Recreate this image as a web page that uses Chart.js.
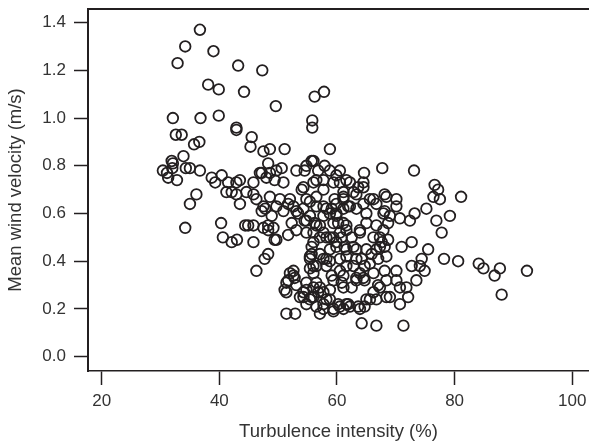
<!DOCTYPE html>
<html>
<head>
<meta charset="utf-8">
<script src="https://cdn.jsdelivr.net/npm/chart.js@4.4.1/dist/chart.umd.min.js"></script>
<style>
  html, body { margin: 0; padding: 0; background: #fff; }
  #wrap { width: 589px; height: 444px; }
</style>
</head>
<body>
<div id="wrap"><canvas id="myChart" width="589" height="444"></canvas></div>
<script>
// Turbulence intensity (%) vs mean wind velocity (m/s)
const turbulence = [
    36.7, 34.2, 32.9, 39.0, 43.2, 47.3, 38.1, 39.9, 44.2, 49.6,
    56.2, 57.8, 32.1, 36.8, 39.9, 42.9, 42.9, 55.8, 55.8, 45.5,
    32.6, 33.6, 35.7, 36.6, 45.3, 47.5, 48.6, 51.1, 58.8,
    // left band
    33.9, 32.1, 30.4, 31.1, 31.3, 32.0, 32.8, 31.9, 34.3, 35.0,
    36.7, 38.7, 39.3, 40.4, 36.1, 35.0, 34.2, 41.5, 42.9, 43.5,
    45.8, 46.9, 48.0, 48.6, 49.7, 50.6, 48.3, 53.1, 41.2, 42.1,
    43.5, 44.6, 46.3, 47.2, 49.4, 50.9, 52.0, 54.0, 54.8, 56.0,
    56.5, 57.7, 58.8, 59.6, 60.5, 61.1, 42.9, 45.8, 47.5, 48.6,
    50.3, 51.7, 53.1, 54.3, 55.4, 56.5, 57.7, 58.8, 59.9, 61.1,
    61.9, 63.3, 64.5, 65.6, 66.7, 68.4, 67.9, 47.2, 47.8, 48.9,
    49.7, 50.9, 52.6, 53.4, 54.5, 55.4, 56.2, 57.7, 59.1, 59.9,
    60.2, 61.6,
    // middle
    40.3, 40.6, 42.1, 43.0, 45.8, 44.4, 44.9, 47.5, 48.3, 49.2,
    49.7, 51.7, 48.3, 47.7, 46.3, 45.8, 48.3, 49.4, 52.3, 53.1,
    54.8, 56.0, 57.1, 58.2, 59.4, 60.5, 61.6, 62.5, 63.9, 65.0,
    66.2, 67.9, 68.7, 54.8, 56.0, 57.1, 58.8, 59.9, 60.8, 61.6,
    // lower
    66.7, 65.0, 63.3, 61.3, 58.8, 57.1, 55.7, 55.4, 56.5, 58.8,
    60.5, 61.6, 62.8, 64.2, 65.6, 67.0, 68.4, 55.4, 56.0, 57.7,
    58.2, 52.0, 52.6, 51.4, 51.4, 53.1, 54.3, 54.8, 56.0, 56.5,
    57.7, 58.8, 59.4, 60.5, 61.6, 51.4, 52.9, 59.1, 61.1, 56.5,
    52.6, 51.7, 51.1, 52.8, 55.4, 56.0, 54.8, 53.7, 55.7, 56.8,
    57.7, 60.2, 61.9, 63.6, 65.0, 66.2, 67.3, 68.4, 64.5, 63.3,
    59.4, 60.8, 57.1, 64.2, 66.7, 71.3, 66.7, 68.4,
    // right
    55.7, 57.9, 54.5, 56.8, 59.9, 64.6, 67.7, 73.1, 76.6, 77.2,
    76.4, 77.5, 75.2, 81.1, 73.2, 72.4, 70.7, 69.0, 68.1, 70.1,
    68.1, 70.1, 76.9, 77.8, 79.2, 64.5, 62.8, 61.1, 62.2, 72.7,
    71.0, 68.1, 65.9, 67.3, 75.5, 74.4, 74.1, 74.9, 72.7, 78.2,
    80.6, 84.1, 84.9, 87.7, 86.8, 92.3, 88.0, 70.1, 70.1, 73.5,
    71.8, 70.7, 72.1, 70.7, 69.0, 65.6, 64.7, 63.9, 62.2, 61.1,
    59.4, 57.7, 55.4, 54.3, 67.6, 67.3, 68.7, 66.7, 63.9, 62.8,
    64.7, 63.3, 63.9, 63.3, 64.7, 66.2, 68.1, 67.0, 61.6, 60.5,
    61.1, 62.5, 58.2, 58.8, 56.0, 54.8, 57.1, 55.7, 58.2, 59.9,
    59.4, 57.7, 56.5, 61.1, 59.9, 58.2, 56.5, 54.8, 61.1, 62.2,
    63.3, 65.0, 66.2, 61.6, 59.4, 57.7, 56.0, 54.3, 63.6, 64.5,
    60.5
];

const velocity = [
    1.37, 1.30, 1.23, 1.28, 1.22, 1.20, 1.14, 1.12, 1.11, 1.05,
    1.09, 1.11, 1.00, 1.00, 1.01, 0.96, 0.95, 0.99, 0.96, 0.92,
    0.93, 0.93, 0.89, 0.90, 0.88, 0.86, 0.87, 0.87, 0.87,
    // left band
    0.84, 0.81, 0.78, 0.77, 0.75, 0.79, 0.74, 0.82, 0.79, 0.79,
    0.78, 0.75, 0.73, 0.76, 0.68, 0.64, 0.54, 0.73, 0.73, 0.74,
    0.73, 0.77, 0.75, 0.77, 0.78, 0.79, 0.81, 0.78, 0.69, 0.69,
    0.64, 0.69, 0.66, 0.77, 0.74, 0.73, 0.66, 0.70, 0.80, 0.82,
    0.74, 0.70, 0.78, 0.66, 0.73, 0.62, 0.68, 0.68, 0.63, 0.67,
    0.66, 0.64, 0.61, 0.62, 0.65, 0.67, 0.63, 0.60, 0.64, 0.67,
    0.63, 0.68, 0.64, 0.66, 0.64, 0.67, 0.60, 0.61, 0.62, 0.59,
    0.63, 0.61, 0.63, 0.60, 0.57, 0.59, 0.56, 0.59, 0.62, 0.59,
    0.56, 0.53,
    // middle
    0.56, 0.50, 0.48, 0.49, 0.48, 0.55, 0.55, 0.54, 0.55, 0.54,
    0.49, 0.51, 0.43, 0.41, 0.36, 0.55, 0.53, 0.49, 0.56, 0.53,
    0.57, 0.52, 0.55, 0.50, 0.56, 0.52, 0.55, 0.50, 0.53, 0.56,
    0.50, 0.53, 0.49, 0.52, 0.48, 0.50, 0.50, 0.48, 0.50, 0.45,
    // lower
    0.45, 0.45, 0.45, 0.46, 0.45, 0.43, 0.43, 0.41, 0.38, 0.40,
    0.41, 0.42, 0.38, 0.41, 0.39, 0.41, 0.42, 0.42, 0.38, 0.41,
    0.38, 0.35, 0.34, 0.31, 0.27, 0.30, 0.27, 0.22, 0.25, 0.21,
    0.27, 0.24, 0.20, 0.21, 0.22, 0.18, 0.18, 0.34, 0.29, 0.31,
    0.36, 0.32, 0.28, 0.33, 0.37, 0.29, 0.28, 0.25, 0.25, 0.27,
    0.22, 0.22, 0.22, 0.21, 0.24, 0.27, 0.29, 0.32, 0.33, 0.32,
    0.32, 0.31, 0.18, 0.14, 0.13, 0.13, 0.24, 0.25,
    // right
    0.82, 0.80, 0.78, 0.78, 0.76, 0.77, 0.79, 0.78, 0.72, 0.70,
    0.67, 0.66, 0.62, 0.67, 0.60, 0.57, 0.58, 0.59, 0.68, 0.66,
    0.61, 0.63, 0.57, 0.52, 0.59, 0.71, 0.69, 0.69, 0.73, 0.48,
    0.46, 0.46, 0.43, 0.46, 0.45, 0.41, 0.38, 0.36, 0.38, 0.41,
    0.40, 0.39, 0.37, 0.37, 0.34, 0.36, 0.26, 0.36, 0.32, 0.32,
    0.29, 0.29, 0.25, 0.22, 0.25, 0.24, 0.21, 0.20, 0.21, 0.20,
    0.19, 0.20, 0.24, 0.25, 0.48, 0.50, 0.56, 0.55, 0.52, 0.46,
    0.38, 0.41, 0.35, 0.33, 0.32, 0.35, 0.36, 0.30, 0.38, 0.36,
    0.34, 0.29, 0.24, 0.28, 0.35, 0.31, 0.29, 0.46, 0.41, 0.46,
    0.50, 0.52, 0.55, 0.56, 0.60, 0.62, 0.63, 0.66, 0.66, 0.63,
    0.62, 0.60, 0.66, 0.74, 0.73, 0.74, 0.73, 0.71, 0.71, 0.73,
    0.78
];

const xTicks = [20, 40, 60, 80, 100];
const yTicks = [0.0, 0.2, 0.4, 0.6, 0.8, 1.0, 1.2, 1.4];

const ink = "#231f20";
const textColor = "#333333";
const family = "'Liberation Sans', Arial, sans-serif";

const points = turbulence.map((t, i) => ({ x: t, y: velocity[i] }));

// top frame line (no right frame in the original)
const topLine = {
    id: "topLine",
    afterDraw(chart) {
        const { ctx, chartArea } = chart;
        ctx.save();
        ctx.strokeStyle = ink;
        ctx.lineWidth = 2;
        ctx.beginPath();
        ctx.moveTo(chartArea.left - 1, chartArea.top);
        ctx.lineTo(chart.width, chartArea.top);
        ctx.stroke();
        ctx.restore();
    }
};

const ctx = document.getElementById("myChart").getContext("2d");

const myChart = new Chart(ctx, {
    type: "scatter",
    data: {
        datasets: [{
            data: points,
            pointRadius: 5.3,
            pointBorderWidth: 1.8,
            pointBackgroundColor: "rgba(0,0,0,0)",
            pointBorderColor: ink,
            pointHoverRadius: 5.3
        }]
    },
    options: {
        responsive: false,
        animation: false,
        layout: { autoPadding: false, padding: { top: 9, right: 0, left: 0, bottom: 0 } },
        plugins: {
            legend: { display: false },
            tooltip: { enabled: false }
        },
        scales: {
            x: {
                type: "linear",
                min: 17.67,
                max: 102.85,
                afterBuildTicks: (s) => { s.ticks = xTicks.map(v => ({ value: v })); },
                afterFit: (s) => {
                    s.height = 73;
                    s.paddingLeft = 0;
                    s.paddingRight = 0;
                },
                ticks: {
                    color: textColor,
                    font: { family, size: 17 },
                    padding: 6,
                    maxRotation: 0
                },
                grid: {
                    drawOnChartArea: false,
                    drawTicks: true,
                    tickLength: 14,
                    tickWidth: 1.5,
                    tickColor: ink
                },
                border: { display: true, color: ink, width: 1.5 },
                title: {
                    display: true,
                    text: "Turbulence intensity (%)",
                    color: textColor,
                    font: { family, size: 18.5 },
                    padding: { top: 0, bottom: 1 }
                }
            },
            y: {
                type: "linear",
                min: -0.06,
                max: 1.457,
                afterBuildTicks: (s) => { s.ticks = yTicks.map(v => ({ value: v })); },
                afterFit: (s) => {
                    s.width = 88;
                    s.paddingTop = 0;
                    s.paddingBottom = 0;
                },
                ticks: {
                    color: textColor,
                    font: { family, size: 17 },
                    padding: 8,
                    callback: (v) => Number(v).toFixed(1)
                },
                grid: {
                    drawOnChartArea: false,
                    drawTicks: true,
                    tickLength: 14,
                    tickWidth: 1.5,
                    tickColor: ink
                },
                border: { display: true, color: ink, width: 2 },
                title: {
                    display: true,
                    text: "Mean wind velocity (m/s)",
                    color: textColor,
                    font: { family, size: 18.5 },
                    padding: { top: 5, bottom: 0 }
                }
            }
        }
    },
    plugins: [topLine]
});
</script>
</body>
</html>
